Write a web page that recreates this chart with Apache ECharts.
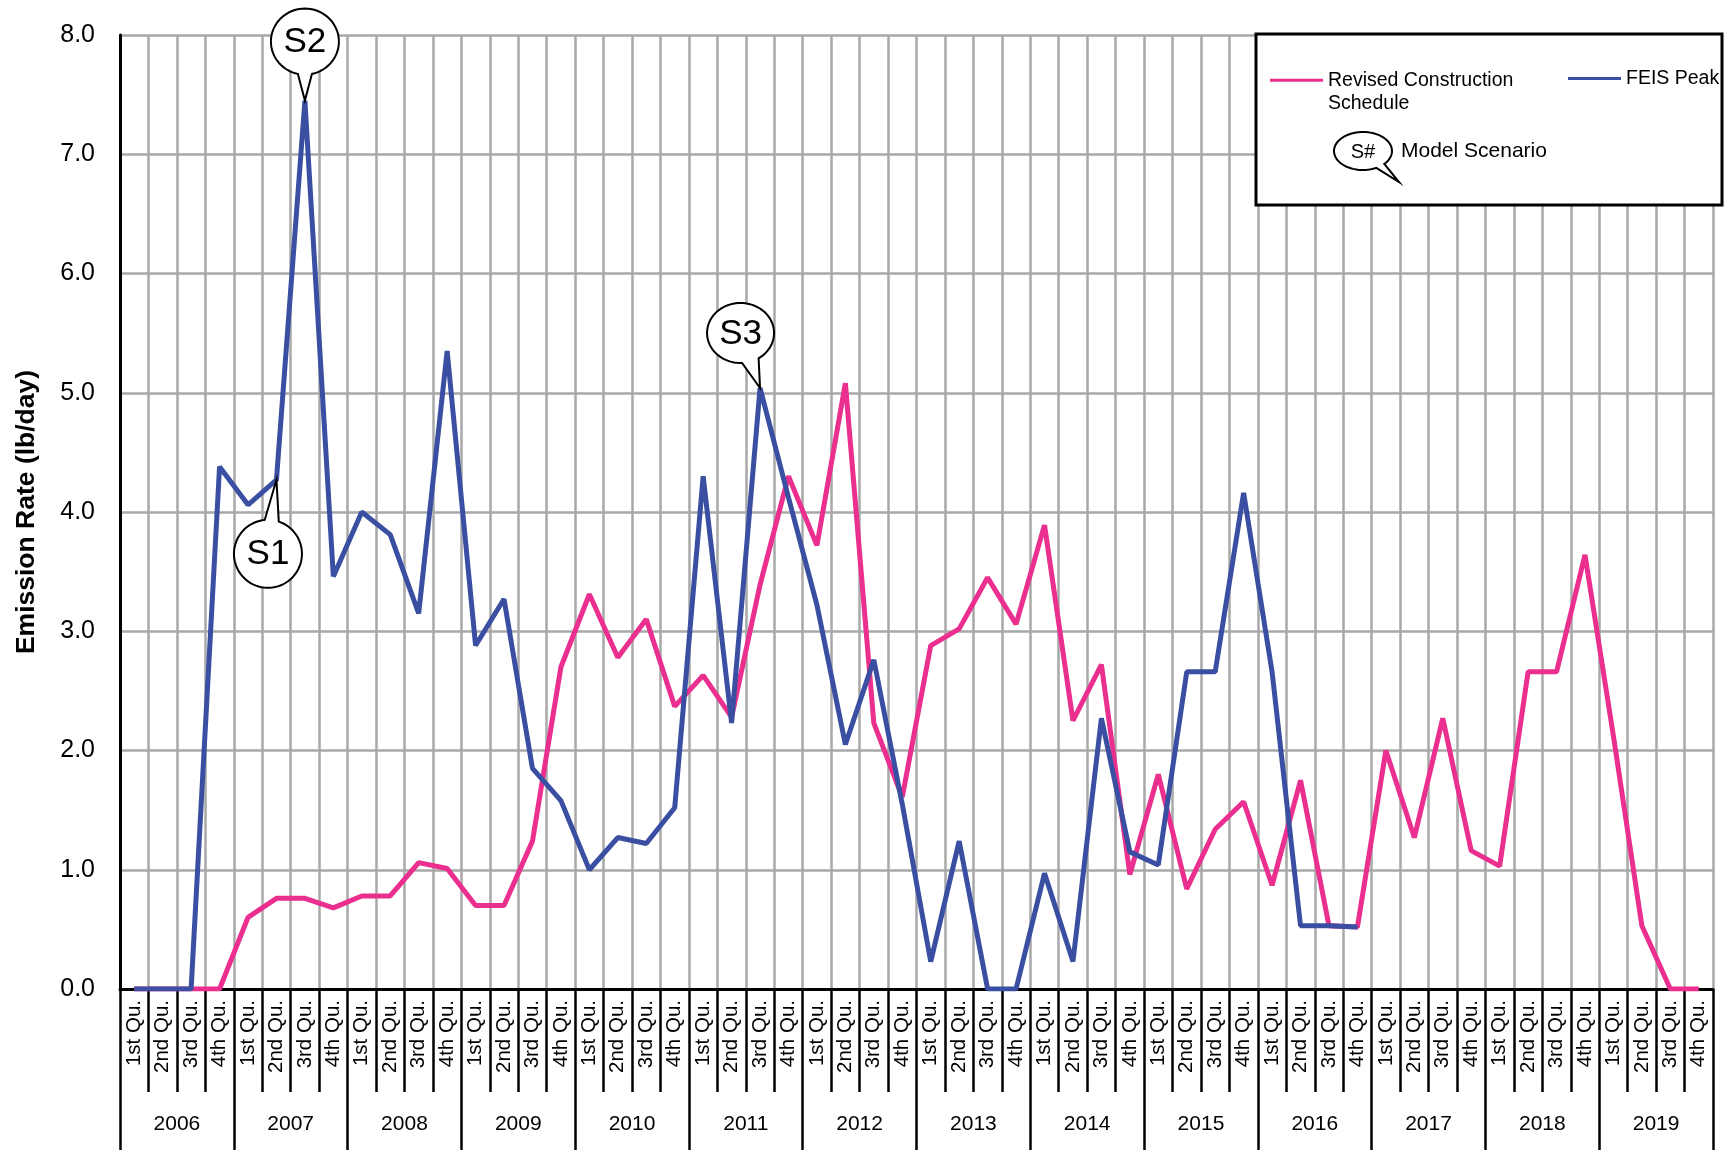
<!DOCTYPE html>
<html>
<head>
<meta charset="utf-8">
<title>Emission Rate</title>
<script src="https://cdn.jsdelivr.net/npm/echarts@6.0.0/dist/echarts.min.js"></script>
<style>
  html, body { margin: 0; padding: 0; background: #fff; }
  #chart { width: 1724px; height: 1150px; }
</style>
</head>
<body>
<div id="chart"></div>
<script>
const years = ['2006', '2007', '2008', '2009', '2010', '2011', '2012', '2013', '2014', '2015', '2016', '2017', '2018', '2019'];
const quarterNames = ['1st Qu.', '2nd Qu.', '3rd Qu.', '4th Qu.'];
const yTicks = [0, 1, 2, 3, 4, 5, 6, 7, 8];

const revisedSchedule = [
  0, 0, 0, 0,
  0.60, 0.76, 0.76, 0.68,
  0.78, 0.78, 1.06, 1.01,
  0.70, 0.70, 1.24, 2.70,
  3.31, 2.78, 3.10, 2.37,
  2.63, 2.28, 3.39, 4.30,
  3.72, 5.08, 2.23, 1.61,
  2.88, 3.02, 3.45, 3.06,
  3.89, 2.25, 2.72, 0.96,
  1.80, 0.84, 1.34, 1.57,
  0.87, 1.75, 0.53, 0.52,
  2.00, 1.27, 2.27, 1.16,
  1.03, 2.66, 2.66, 3.64,
  2.12, 0.53, 0, 0
];

const feisPeak = [
  0, 0, 0, 4.38,
  4.06, 4.27, 7.45, 3.46,
  4.00, 3.81, 3.15, 5.35,
  2.88, 3.27, 1.85, 1.58,
  1.00, 1.27, 1.22, 1.52,
  4.30, 2.23, 5.04, 4.12,
  3.22, 2.05, 2.76, 1.55,
  0.23, 1.24, 0, 0,
  0.97, 0.23, 2.27, 1.15,
  1.04, 2.66, 2.66, 4.16,
  2.66, 0.53, 0.53, 0.52,
  null, null, null, null,
  null, null, null, null,
  null, null, null, null
];

// model scenario callouts, pointing at FEIS Peak points
const scenarios = [
  { label: 'S1', index: 5, dx: -8.5, dy: 74, rx: 34, ry: 34, gap: 12 },
  { label: 'S2', index: 6, dx: 0, dy: -59, rx: 34, ry: 33, gap: 12 },
  { label: 'S3', index: 22, dx: -19.5, dy: -55, rx: 33.5, ry: 30, gap: 15 }
];

const quarters = [];
years.forEach(function () {
  quarterNames.forEach(function (q) { quarters.push(q); });
});

const FONT = "'Liberation Sans', Arial, Helvetica, sans-serif";
const PINK = '#EA2F8E';
const BLUE = '#3A4FA2';
const GRAY = '#A8A8A8';

const chart = echarts.init(document.getElementById('chart'));

const option = {
  animation: false,
  backgroundColor: '#fff',
  grid: { left: 120, right: 11, top: 35, bottom: 161, outerBoundsMode: 'none' },
  legend: [
    {
      data: ['Revised Construction Schedule'],
      // blank first line keeps the icon level with the first text line
      formatter: function () { return ' \nRevised Construction\nSchedule'; },
      left: 1270, top: 45, padding: 0, z: 60,
      icon: 'rect', itemWidth: 53, itemHeight: 3,
      selectedMode: false,
      textStyle: { fontFamily: FONT, fontSize: 19.5, color: '#000', lineHeight: 23.5 }
    },
    {
      data: ['FEIS Peak'],
      left: 1568, top: 67, padding: 0, z: 60,
      icon: 'rect', itemWidth: 53, itemHeight: 3,
      selectedMode: false,
      textStyle: { fontFamily: FONT, fontSize: 19.5, color: '#000', lineHeight: 23 }
    }
  ],
  xAxis: [
    {
      type: 'category',
      data: quarters,
      boundaryGap: true,
      axisLine: { lineStyle: { color: '#000', width: 3 } },
      axisTick: { show: true, interval: 0, length: 103, lineStyle: { color: '#000', width: 2.5 } },
      splitLine: { show: true, interval: 0, lineStyle: { color: GRAY, width: 2.5 } },
      axisLabel: { interval: 0, rotate: 90, margin: 11, fontFamily: FONT, fontSize: 20.5, color: '#000' }
    },
    {
      type: 'category',
      data: years,
      position: 'bottom',
      boundaryGap: true,
      axisLine: { show: false },
      axisTick: { show: true, interval: 0, length: 170, lineStyle: { color: '#000', width: 2.5 } },
      splitLine: { show: false },
      axisLabel: { interval: 0, margin: 125, fontFamily: FONT, fontSize: 21, color: '#000' }
    }
  ],
  yAxis: {
    type: 'value',
    min: yTicks[0],
    max: yTicks[yTicks.length - 1],
    interval: 1,
    name: 'Emission Rate (lb/day)',
    nameLocation: 'middle',
    nameGap: 80,
    nameTextStyle: { fontFamily: FONT, fontSize: 26.5, fontWeight: 'bold', color: '#000' },
    axisLine: { show: true, lineStyle: { color: '#000', width: 3 } },
    axisTick: { show: false },
    splitLine: { lineStyle: { color: GRAY, width: 2.5 } },
    axisLabel: {
      margin: 25, fontFamily: FONT, fontSize: 25, color: '#000',
      formatter: function (v) { return v.toFixed(1); }
    }
  },
  series: [
    {
      name: 'Revised Construction Schedule',
      type: 'line',
      data: revisedSchedule,
      symbol: 'none',
      color: PINK,
      lineStyle: { color: PINK, width: 5 },
      z: 2
    },
    {
      name: 'FEIS Peak',
      type: 'line',
      data: feisPeak,
      symbol: 'none',
      connectNulls: false,
      color: BLUE,
      lineStyle: { color: BLUE, width: 5 },
      z: 3
    }
  ]
};

chart.setOption(option);

function bubblePoints(cx, cy, rx, ry, tipX, tipY, gapDeg) {
  const t = Math.atan2((tipY - cy) / ry, (tipX - cx) / rx);
  const gap = gapDeg * Math.PI / 180;
  const pts = [];
  const steps = 72;
  for (let i = 0; i <= steps; i++) {
    const a = t + gap + (2 * Math.PI - 2 * gap) * i / steps;
    pts.push([cx + rx * Math.cos(a), cy + ry * Math.sin(a)]);
  }
  pts.push([tipX, tipY]);
  return pts;
}

const graphics = [];

// legend frame
graphics.push({
  type: 'rect', z: 50,
  shape: { x: 1256, y: 34, width: 466, height: 171 },
  style: { fill: '#fff', stroke: '#000', lineWidth: 3 }
});

// legend entry for the scenario callout
graphics.push({
  type: 'polygon', z: 61,
  shape: { points: bubblePoints(1363, 151, 29, 19, 1399, 182, 10) },
  style: { fill: '#fff', stroke: '#000', lineWidth: 2 }
});
graphics.push({
  type: 'text', z: 62, x: 1363, y: 152,
  style: { text: 'S#', fontFamily: FONT, fontSize: 20, fill: '#000', align: 'center', verticalAlign: 'middle', textAlign: 'center', textVerticalAlign: 'middle' }
});
graphics.push({
  type: 'text', z: 62, x: 1401, y: 151,
  style: { text: 'Model Scenario', fontFamily: FONT, fontSize: 21, fill: '#000', align: 'left', verticalAlign: 'middle', textAlign: 'left', textVerticalAlign: 'middle' }
});

scenarios.forEach(function (s) {
  const p = chart.convertToPixel({ seriesIndex: 1 }, [s.index, feisPeak[s.index]]);
  const cx = p[0] + s.dx;
  const cy = p[1] + s.dy;
  graphics.push({
    type: 'polygon', z: 100,
    shape: { points: bubblePoints(cx, cy, s.rx, s.ry, p[0], p[1], s.gap) },
    style: { fill: '#fff', stroke: '#000', lineWidth: 2 }
  });
  graphics.push({
    type: 'text', z: 101, x: cx, y: cy + 1,
    style: { text: s.label, fontFamily: FONT, fontSize: 35, fill: '#000', align: 'center', verticalAlign: 'middle', textAlign: 'center', textVerticalAlign: 'middle' }
  });
});

chart.setOption({ graphic: graphics });
</script>
</body>
</html>
